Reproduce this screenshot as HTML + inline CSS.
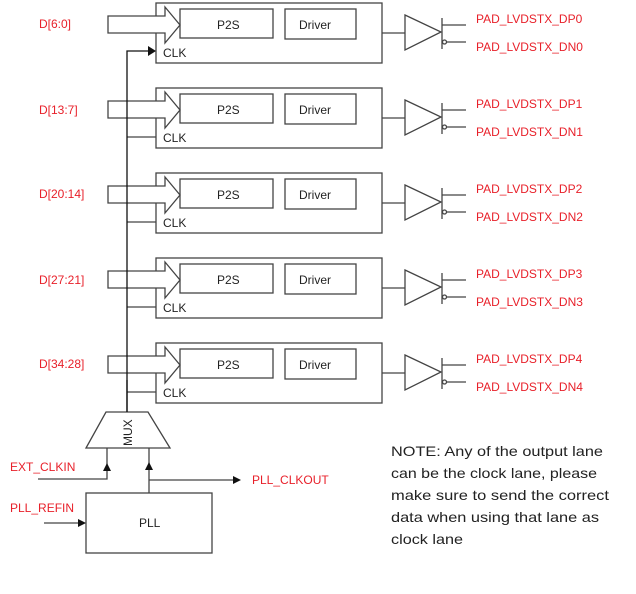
<!DOCTYPE html>
<html><head><meta charset="utf-8"><style>
html,body{margin:0;padding:0;background:#fff;}
svg{display:block;}
text{font-family:"Liberation Sans",sans-serif;}
.r{fill:#e8202a;font-size:12px;}
.k{fill:#222;font-size:12px;}
</style></head><body>
<svg width="636" height="594" viewBox="0 0 636 594" xmlns="http://www.w3.org/2000/svg">
<defs>
<g id="lane" fill="none" stroke="#444" stroke-width="1.3">
  <rect x="156" y="0" width="226" height="60"/>
  <rect x="180" y="6" width="93" height="29"/>
  <rect x="285" y="6" width="71" height="30"/>
  <path d="M108,13 H165 V4 L180,22 L165,40 V30 H108 Z" fill="#fff"/>
  <line x1="382" y1="30" x2="405" y2="30"/>
  <path d="M405,12 L441,29 L405,47 Z"/>
  <line x1="442" y1="15" x2="442" y2="46"/>
  <line x1="442" y1="22" x2="466" y2="22"/>
  <circle cx="444.5" cy="39" r="2" fill="#fff"/>
  <line x1="447" y1="39" x2="466" y2="39"/>
  <text x="217" y="26" class="k" stroke="none">P2S</text>
  <text x="299" y="26" class="k" stroke="none">Driver</text>
  <text x="163" y="54" class="k" stroke="none">CLK</text>
</g>
</defs>
<g transform="translate(0,3)"><use href="#lane"/></g>
<g transform="translate(0,88)"><use href="#lane"/><line x1="127" y1="49" x2="156" y2="49" stroke="#444" stroke-width="1.3"/></g>
<g transform="translate(0,173)"><use href="#lane"/><line x1="127" y1="49" x2="156" y2="49" stroke="#444" stroke-width="1.3"/></g>
<g transform="translate(0,258)"><use href="#lane"/><line x1="127" y1="49" x2="156" y2="49" stroke="#444" stroke-width="1.3"/></g>
<g transform="translate(0,343)"><use href="#lane"/><line x1="127" y1="49" x2="156" y2="49" stroke="#444" stroke-width="1.3"/></g>

<path d="M127,412 V51 H148" fill="none" stroke="#111" stroke-width="1.3"/>
<path d="M148,46 L156,51 L148,56 Z" fill="#111"/>

<text x="39" y="28" class="r">D[6:0]</text>
<text x="39" y="114" class="r">D[13:7]</text>
<text x="39" y="198" class="r">D[20:14]</text>
<text x="39" y="284" class="r">D[27:21]</text>
<text x="39" y="368" class="r">D[34:28]</text>
<text x="476" y="23" class="r">PAD_LVDSTX_DP0</text><text x="476" y="51" class="r">PAD_LVDSTX_DN0</text>
<text x="476" y="108" class="r">PAD_LVDSTX_DP1</text><text x="476" y="136" class="r">PAD_LVDSTX_DN1</text>
<text x="476" y="193" class="r">PAD_LVDSTX_DP2</text><text x="476" y="221" class="r">PAD_LVDSTX_DN2</text>
<text x="476" y="278" class="r">PAD_LVDSTX_DP3</text><text x="476" y="306" class="r">PAD_LVDSTX_DN3</text>
<text x="476" y="363" class="r">PAD_LVDSTX_DP4</text><text x="476" y="391" class="r">PAD_LVDSTX_DN4</text>

<path d="M106,412 H148 L170,448 H86 Z" fill="#fff" stroke="#444" stroke-width="1.3"/>
<line x1="127" y1="380" x2="127" y2="412" stroke="#111" stroke-width="1.3"/>
<text transform="translate(132,446) rotate(-90)" class="k" font-size="11">MUX</text>

<path d="M38,479 H107 V448" fill="none" stroke="#444" stroke-width="1.3"/>
<path d="M103,471 L107,463 L111,471 Z" fill="#111"/>
<text x="10" y="471" class="r">EXT_CLKIN</text>
<path d="M149,493 V448" fill="none" stroke="#444" stroke-width="1.3"/>
<path d="M145,470 L149,462 L153,470 Z" fill="#111"/>
<path d="M149,480 H235" fill="none" stroke="#444" stroke-width="1.3"/>
<path d="M233,476 L241,480 L233,484 Z" fill="#111"/>
<text x="252" y="484" class="r">PLL_CLKOUT</text>
<rect x="86" y="493" width="126" height="60" fill="none" stroke="#444" stroke-width="1.3"/>
<text x="139" y="527" class="k">PLL</text>
<path d="M44,523 H80" fill="none" stroke="#444" stroke-width="1.3"/>
<path d="M78,519 L86,523 L78,527 Z" fill="#111"/>
<text x="10" y="512" class="r">PLL_REFIN</text>

<g class="k" style="font-size:14px">
<text x="391" y="456" textLength="212" lengthAdjust="spacingAndGlyphs">NOTE: Any of the output lane</text>
<text x="391" y="478" textLength="206" lengthAdjust="spacingAndGlyphs">can be the clock lane, please</text>
<text x="391" y="500" textLength="218" lengthAdjust="spacingAndGlyphs">make sure to send the correct</text>
<text x="391" y="522" textLength="208" lengthAdjust="spacingAndGlyphs">data when using that lane as</text>
<text x="391" y="544" textLength="72" lengthAdjust="spacingAndGlyphs">clock lane</text>
</g>
</svg>
</body></html>
